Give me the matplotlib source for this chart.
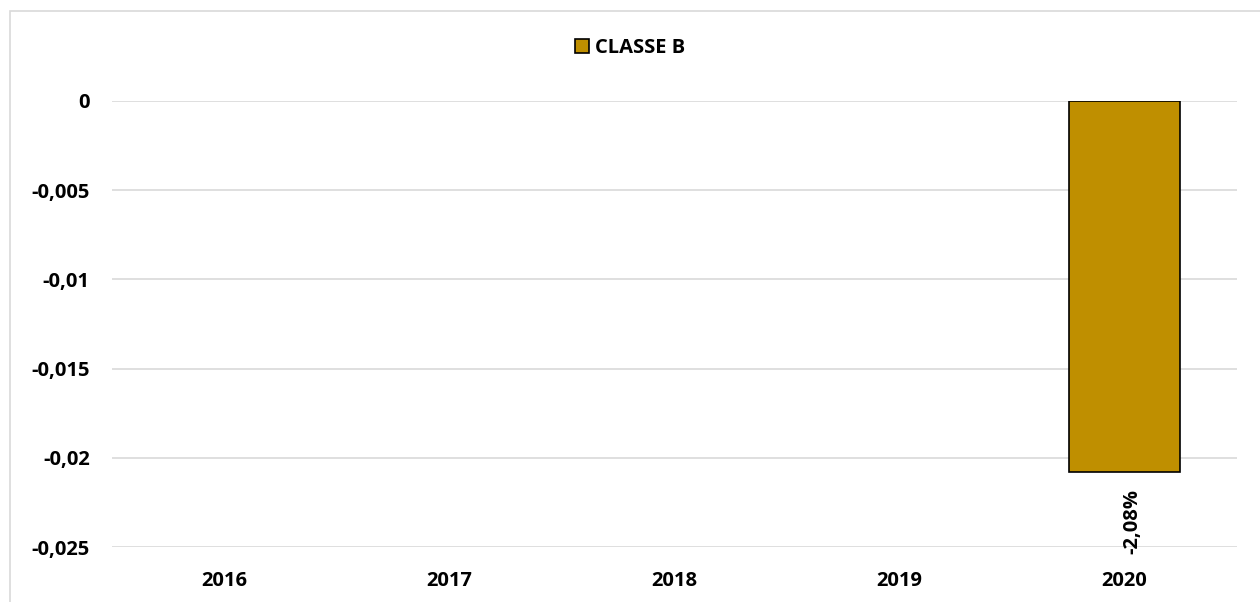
import matplotlib
matplotlib.use("Agg")
import matplotlib.pyplot as plt
from matplotlib.patches import Rectangle
import numpy as np

years = ["2016", "2017", "2018", "2019", "2020"]
classe_b = [np.nan, np.nan, np.nan, np.nan, -0.0208]
bar_labels = ["", "", "", "", "-2,08%"]
y_ticks = [0, -0.005, -0.01, -0.015, -0.02, -0.025]
y_tick_labels = ["0", "-0,005", "-0,01", "-0,015", "-0,02", "-0,025"]

plt.rcParams["font.family"] = ["Open Sans", "DejaVu Sans"]
plt.rcParams["font.weight"] = "bold"
fs = 14.5

fig = plt.figure(figsize=(12.6, 6.02), dpi=100)
ax = fig.add_axes([112/1260, 1-547/602, 1125/1260, 446/602])

x = np.arange(len(years))
ax.bar(x, classe_b, width=0.49, color="#bf8f00", edgecolor="black",
       linewidth=1.2, label="CLASSE B", zorder=3)

for xi, v, lab in zip(x, classe_b, bar_labels):
    if lab:
        ax.annotate(lab, (xi, v), xytext=(6, -12), textcoords="offset points",
                    rotation=90, ha="center", va="top", fontsize=fs,
                    fontweight="bold")

ax.set_xlim(-0.5, len(years) - 0.5)
ax.set_ylim(-0.025, 0)
ax.set_xticks(x)
ax.set_xticklabels(years, fontsize=fs, fontweight="bold")
ax.set_yticks(y_ticks)
ax.set_yticklabels(y_tick_labels, fontsize=fs, fontweight="bold")
ax.tick_params(axis="x", length=0, pad=17)
ax.tick_params(axis="y", length=0, pad=16)
ax.yaxis.grid(True, color="#d9d9d9", linewidth=1.2, zorder=0)
ax.set_axisbelow(True)
for s in ax.spines.values():
    s.set_visible(False)

leg = ax.legend(loc="center", frameon=False, fontsize=fs, handlelength=0.7,
                handleheight=0.7, handletextpad=0.3)
leg.set_bbox_to_anchor((0.5, (602 - 48) / 602), transform=fig.transFigure)

# outer chart border
fig.patches.append(Rectangle((10/1260, -0.1), 1.5, (602 - 11) / 602 + 0.1,
                             transform=fig.transFigure, fill=False,
                             edgecolor="#d9d9d9", linewidth=1.2))

fig.savefig("out.png", dpi=100)
